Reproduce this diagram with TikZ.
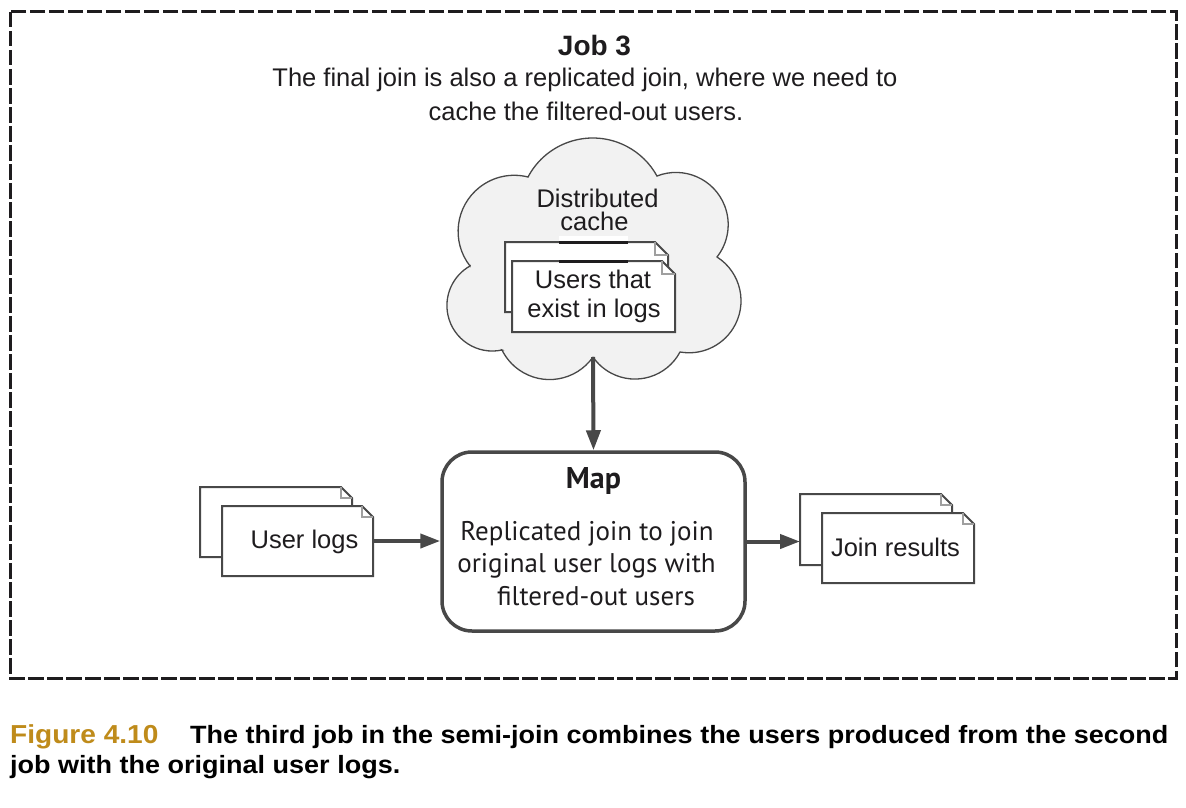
\documentclass[tikz,border=0pt]{standalone}
\usepackage{fontspec}
\setmainfont{Liberation Sans}
\newfontfamily\mapfont{PT Sans}
\newfontfamily\capfont[FakeStretch=1.08]{Liberation Sans}
\usetikzlibrary{arrows.meta,calc}
\definecolor{figgold}{RGB}{191,139,26}
\definecolor{edge}{RGB}{72,72,72}
\definecolor{cloudfill}{RGB}{242,242,242}
\definecolor{ink}{RGB}{30,28,30}
\newcommand\docshape[2]{%
  \draw[docline] (#1.north west) -- ([xshift=-#2pt]#1.north east) -- ([yshift=-#2pt]#1.north east)
     -- (#1.south east) -- (#1.south west) -- cycle;
  \draw[foldline] ([xshift=-#2pt]#1.north east) -- ([xshift=-#2pt,yshift=-#2pt]#1.north east)
     -- ([yshift=-#2pt]#1.north east);
}
\begin{document}
\begin{tikzpicture}[x=1pt,y=-1pt,
  txt/.style={inner sep=0pt, anchor=base, text=ink, font=\fontsize{25.5}{30}\selectfont},
  mtxt/.style={inner sep=0pt, anchor=base, text=ink, font=\mapfont\fontsize{27}{30}\selectfont},
  captxt/.style={inner sep=0pt, anchor=base west, text=black, font=\capfont\bfseries\fontsize{25}{30}\selectfont},
  slot/.style={inner sep=0pt, outer sep=0pt, minimum width=#1},
  docline/.style={draw=edge, line width=2pt, fill=white, line join=miter},
  foldline/.style={draw=gray!75, line width=1.2pt},
  mapbox/.style={draw=edge, line width=3.5pt, rounded corners=30pt, fill=white,
     minimum width=303pt, minimum height=179pt, inner sep=0pt},
  arr/.style={draw=edge, line width=4pt, -{Triangle[length=20pt,width=14pt]}},
  cloudline/.style={draw=edge, line width=1.3pt, fill=cloudfill},
  frameline/.style={draw=ink, line width=3pt, dash pattern=on 15.5pt off 3.5pt}
 ]
\useasboundingbox (0,0) rectangle (1186,808);
\fill[white] (0,0) rectangle (1186,808);

% dashed job frame
\draw[frameline] (10,12) rectangle (1176,678);

% header
\node[txt, font=\bfseries\fontsize{28}{30}\selectfont] (jobtitle) at (594.5,56) {Job 3};
\node[txt] (jobl1) at (585,86) {The final join is also a replicated join, where we need to};
\node[txt] (jobl2) at (586,120) {cache the filtered-out users.};

% cloud (distributed cache)
\draw[cloudline] (528,177) arc[start angle=-152.1, end angle=-28.78, radius=73.28]
 -- (657,176) arc[start angle=-111.28, end angle=38.22, radius=52.24]
 -- (717,257) arc[start angle=-57.46, end angle=100.0, radius=51.97]
 -- (680,352) arc[start angle=28.0, end angle=145.4, radius=51.0]
 -- (593,357) arc[start angle=35.1, end angle=153.7, radius=53.08]
 -- (502,350) arc[start angle=77.8, end angle=240.5, radius=45.47]
 -- (470,266) arc[start angle=142.0, end angle=284.16, radius=56.15]
 -- cycle;
\coordinate (cloudbot) at (593,357);

\node[txt] (dc1) at (597.5,207) {Distributed};
\node[txt] (dc2) at (594.5,230) {cache};

% documents in the cloud
\node[slot=163pt, minimum height=70pt] (cdb) at (586.5,277) {};
\node[slot=163pt, minimum height=71pt] (cdf) at (593.5,296.5) {};
\docshape{cdb}{13}
\docshape{cdf}{13}
\fill[white] (559,236) rectangle (628,240.5);
\draw[line width=3pt, ink] (559,242) -- (628,242);
\draw[line width=3pt, ink] (559,261) -- (628,261);
\node[txt] (ut1) at (593,288) {Users that};
\node[txt] (ut2) at (594,317) {exist in logs};

% map box
\node[mapbox] (map) at (593.5,541.5) {};
\node[mtxt, font=\mapfont\bfseries\fontsize{30}{32}\selectfont] (maptitle) at (593.5,488) {Map};
\node[mtxt] (mapl1) at (587,540) {Replicated join to join};
\node[mtxt] (mapl2) at (586.5,572.5) {original user logs with};
\node[mtxt] (mapl3) at (596,605) {filtered-out users};

% user logs
\node[slot=152pt, minimum height=70pt] (ulb) at (276,522) {};
\node[slot=151pt, minimum height=70pt] (ulf) at (297.5,541) {};
\docshape{ulb}{11}
\docshape{ulf}{11}
\node[txt] (ultext) at (304.5,548) {User logs};

% join results
\node[slot=152pt, minimum height=71pt] (jrb) at (876,529.5) {};
\node[slot=152pt, minimum height=70pt] (jrf) at (898,548) {};
\docshape{jrb}{11}
\docshape{jrf}{11}
\node[txt] (jrtext) at (895.5,556) {Join results};

% connectors
\draw[arr] (cloudbot) -- (map.north);
\draw[arr] (ulf.east) -- (ulf.east -| map.west);
\draw[arr] (map.east) -- (map.east -| jrb.west);

% caption
\node[captxt, text=figgold, font=\capfont\bfseries\fontsize{26}{30}\selectfont] (figno) at (10,743) {Figure 4.10};
\node[captxt] (capl1) at (190,743) {The third job in the semi-join combines the users produced from the second};
\node[captxt] (capl2) at (10,773) {job with the original user logs.};
\end{tikzpicture}
\end{document}
